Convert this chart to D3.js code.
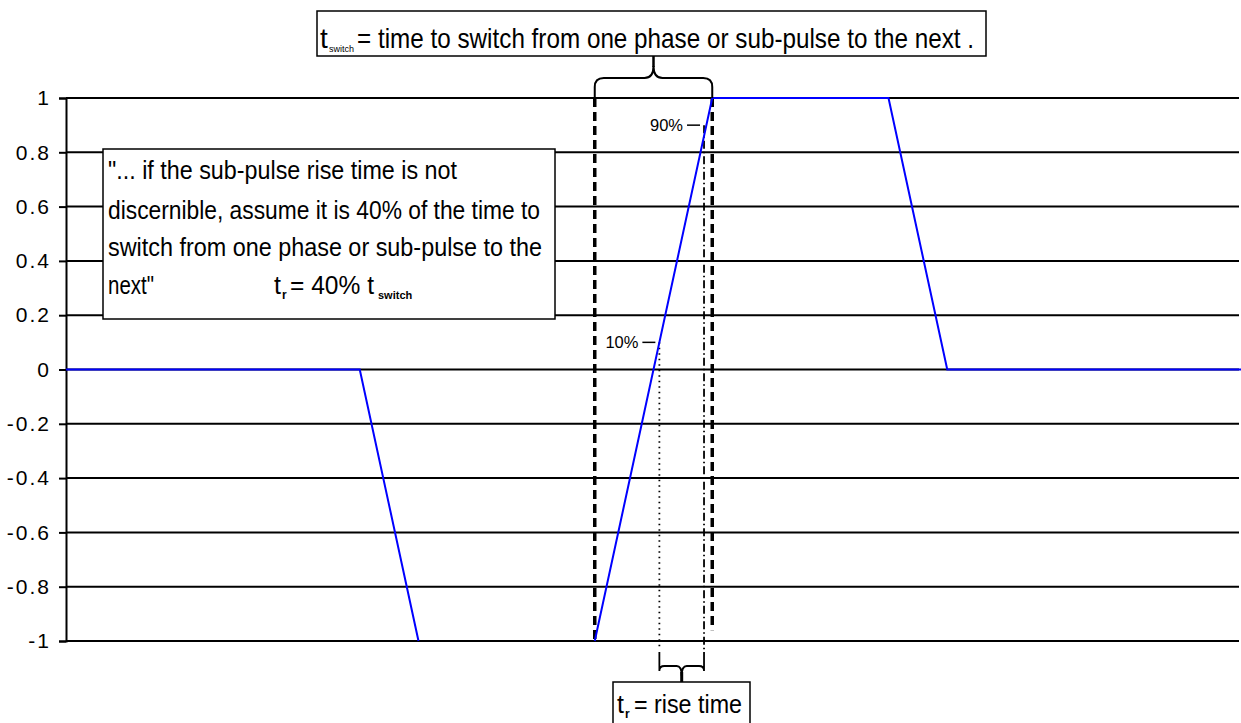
<!DOCTYPE html>
<html><head><meta charset="utf-8">
<script src="https://cdn.jsdelivr.net/npm/d3@7"></script>
<style>body{margin:0;background:#fff} svg{display:block}</style>
</head><body><svg id="c" width="1241" height="723"></svg>
<script>
// ---- data ----
const yTicks = [1, 0.8, 0.6, 0.4, 0.2, 0, -0.2, -0.4, -0.6, -0.8, -1];
const yTickLabels = ["1", "0.8", "0.6", "0.4", "0.2", "0", "-0.2", "-0.4", "-0.6", "-0.8", "-1"];
const fallTime = [0, 5, 6];
const fallValue = [0, 0, -1];
const riseTime = [9, 11, 14, 15, 20];
const riseValue = [-1, 1, 1, 0, 0];
const switchTimes = [9, 11];          // start / end of the phase switch
const riseMarkTimes = [10.1, 10.86];  // 10% and 90% crossing
const riseMarkLevels = [0.1, 0.9];
const riseMarkLabels = ["10%", "90%"];

// ---- setup ----
const svg = d3.select("#c");
const font = "'Liberation Sans', Arial, sans-serif";
const x = d3.scaleLinear().domain([0, 20]).range([66, 1241]);
const y = d3.scaleLinear().domain([-1, 1]).range([641, 98]);

// gridlines
svg.append("g").selectAll("line").data(yTicks).join("line")
  .attr("x1", x(0)).attr("x2", 1239)
  .attr("y1", d => y(d)).attr("y2", d => y(d))
  .attr("stroke", "#000").attr("stroke-width", 2);

// y axis
const yAxis = d3.axisLeft(y).tickValues(yTicks).tickSize(7).tickPadding(8)
  .tickFormat((d, i) => yTickLabels[i]);
const ga = svg.append("g").attr("transform", `translate(${x(0)},0)`).call(yAxis);
ga.select(".domain").attr("stroke", "#000").attr("stroke-width", 2);
ga.selectAll(".tick line").attr("stroke", "#000").attr("stroke-width", 2);
ga.selectAll(".tick text").attr("font-family", font).attr("font-size", 21)
  .attr("letter-spacing", 2).attr("fill", "#000");

function textLine(g, str, tx, ty, size, len, bold) {
  const t = g.append("text").attr("x", tx).attr("y", ty).attr("font-family", font)
    .attr("font-size", size).attr("fill", "#000").text(str);
  if (len) t.attr("textLength", len).attr("lengthAdjust", "spacingAndGlyphs");
  if (bold) t.attr("font-weight", "bold");
  return t;
}

// left quote box
const lb = svg.append("g");
lb.append("rect").attr("x", 103).attr("y", 149).attr("width", 452).attr("height", 170)
  .attr("fill", "#fff").attr("stroke", "#000").attr("stroke-width", 1.5);
textLine(lb, "\"... if the sub-pulse rise time is not", 108, 179, 25, 349);
textLine(lb, "discernible, assume it is 40% of the time to", 108, 219, 25, 432);
textLine(lb, "switch from one phase or sub-pulse to the", 108, 256, 25, 434);
textLine(lb, "next\"", 108, 294, 25, 46);
textLine(lb, "t", 274, 294, 25);
textLine(lb, "r", 282, 299, 12, null, true);
textLine(lb, "= 40% t", 290, 294, 25, 84);
textLine(lb, "switch", 378, 299, 11, null, true);

// vertical marker lines
const vl = svg.append("g");
vl.selectAll("line.sw").data(switchTimes).join("line").attr("class", "sw")
  .attr("x1", d => x(d)).attr("x2", d => x(d))
  .attr("y1", y(1)).attr("y2", (d, i) => i === 0 ? y(-1) : y(-0.96))
  .attr("stroke", "#000").attr("stroke-width", 3.5).attr("stroke-dasharray", "9,5");
vl.append("line").attr("x1", x(riseMarkTimes[0])).attr("x2", x(riseMarkTimes[0]))
  .attr("y1", y(riseMarkLevels[0])).attr("y2", 648)
  .attr("stroke", "#000").attr("stroke-width", 1.8).attr("stroke-dasharray", "1.5,4");
vl.append("line").attr("x1", x(riseMarkTimes[1])).attr("x2", x(riseMarkTimes[1]))
  .attr("y1", y(riseMarkLevels[1])).attr("y2", 652)
  .attr("stroke", "#000").attr("stroke-width", 1.8).attr("stroke-dasharray", "8,3,1.5,3");

// blue signal
const line = d3.line().x(d => x(d[0])).y(d => y(d[1]));
[[fallTime, fallValue], [riseTime, riseValue]].forEach(([t, v]) => {
  svg.append("path").datum(t.map((tt, i) => [tt, v[i]]))
    .attr("d", line).attr("fill", "none").attr("stroke", "#0000ff").attr("stroke-width", 2);
});

// 10% / 90% labels with leader ticks
riseMarkTimes.forEach((t, i) => {
  const px = x(t), py = y(riseMarkLevels[i]);
  svg.append("line").attr("x1", px - 17).attr("x2", px - 4).attr("y1", py).attr("y2", py)
    .attr("stroke", "#000").attr("stroke-width", 1.5);
  textLine(svg, riseMarkLabels[i], px - 54, py + 6, 17, 33);
});

function brace(x1, x2, yEnd, yBar, yTip, r) {
  const xm = (x1 + x2) / 2;
  return `M${x1},${yEnd} L${x1},${yBar + r} Q${x1},${yBar} ${x1 + r},${yBar} L${xm - r},${yBar} Q${xm},${yBar} ${xm},${yTip}` +
         ` M${x2},${yEnd} L${x2},${yBar + r} Q${x2},${yBar} ${x2 - r},${yBar} L${xm + r},${yBar} Q${xm},${yBar} ${xm},${yTip}`;
}
const xs1 = x(switchTimes[0]), xs2 = x(switchTimes[1]);
svg.append("path").attr("d", brace(xs1, xs2, y(1), 78, 66, 9))
  .attr("fill", "none").attr("stroke", "#000").attr("stroke-width", 2);
svg.append("line").attr("x1", (xs1 + xs2) / 2).attr("x2", (xs1 + xs2) / 2).attr("y1", 67).attr("y2", 56)
  .attr("stroke", "#000").attr("stroke-width", 2.5);

// top box
const tb = svg.append("g");
tb.append("rect").attr("x", 317).attr("y", 11).attr("width", 669).attr("height", 45)
  .attr("fill", "#fff").attr("stroke", "#000").attr("stroke-width", 1.5);
textLine(tb, "t", 320, 48, 28);
textLine(tb, "switch", 329, 52, 9);
textLine(tb, "= time to switch from one phase or sub-pulse to the next .", 357, 48, 28, 617);

// bottom brace
const xr1 = x(riseMarkTimes[0]), xr2 = x(riseMarkTimes[1]);
svg.append("path").attr("d", brace(xr1, xr2, 652, 666, 676, 5))
  .attr("fill", "none").attr("stroke", "#000").attr("stroke-width", 1.8);
svg.append("line").attr("x1", (xr1 + xr2) / 2).attr("x2", (xr1 + xr2) / 2).attr("y1", 672).attr("y2", 682)
  .attr("stroke", "#000").attr("stroke-width", 3);

// bottom box
const bb = svg.append("g");
bb.append("rect").attr("x", 613).attr("y", 682).attr("width", 137).attr("height", 50)
  .attr("fill", "#fff").attr("stroke", "#000").attr("stroke-width", 1.5);
textLine(bb, "t", 617, 713, 25);
textLine(bb, "r", 625, 718, 12, null, true);
textLine(bb, "= rise time", 634, 713, 25, 108);
</script></body></html>
